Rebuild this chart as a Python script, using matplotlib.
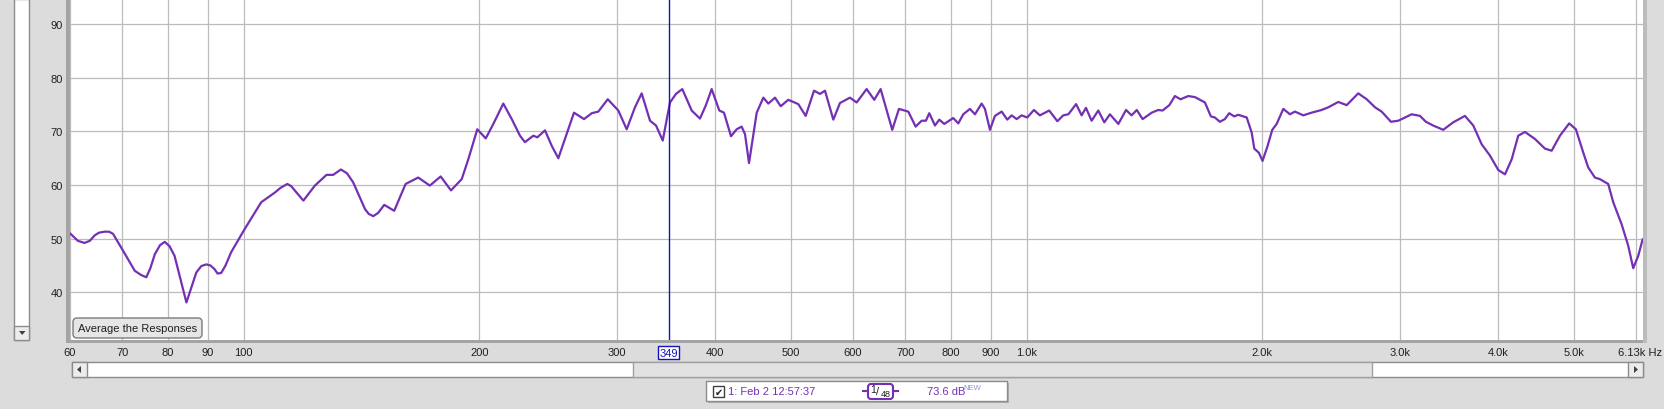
import matplotlib
matplotlib.use('Agg')
import matplotlib.pyplot as plt
from matplotlib.patches import Rectangle, FancyBboxPatch, Polygon
from matplotlib.transforms import IdentityTransform, blended_transform_factory

W, H = 1664, 410

freq_hz = [60, 61.4, 62.6, 63.6, 64.5, 65.3, 66.4, 67.3, 68.1, 70.1, 72.6, 74.0, 75.1, 76.0,
           77.0, 78.2, 79.3, 80.4, 81.6, 84.5, 87.0, 88.3, 89.6, 90.7,
           91.8, 92.6, 93.6, 94.8, 96.4, 100.3, 105.3, 109.6, 111.5, 113.7, 115.0, 116.2,
           119.2, 123.3, 127.6, 130.1, 131.6,
           133.1, 135.5, 138.0, 142.9, 144.5, 146.4, 148.5, 151.2, 155.7, 161.0, 167.1, 172.9,
           178.5, 184.0, 189.9,
           193.6, 198.8, 203.8, 208.4, 214.6, 220.0, 225.4, 228.7, 234.4, 237.2, 242.6, 247.5,
           252.3, 257.3, 264.2, 272.1, 278.4, 283.8, 291.8, 301.0, 308.5, 316.1, 322.4, 330.4,
           336.3, 343.0, 350.4, 356.6, 363.3, 373.5, 382.7, 389.2, 396.1, 405.1, 410.7, 419.3,
           426.3, 432.6, 436.9, 442.1, 452.2, 461.1, 467.9, 477.2, 485.3, 496.2, 511.0, 522.3,
           535.2, 544.7, 552.8, 566.5, 577.7, 594.9, 606.7, 624.8, 639.0, 651.1, 673.7, 687.1,
           706.2, 721.7, 734.6, 743.9, 751.2, 763.9, 773.6, 785.1, 806.1, 818.1, 830.2, 846.7,
           859.3, 876.3, 884.9, 898.0, 911.3, 929.5, 944.9, 957.2, 971.4, 985.7, 1002, 1022,
           1040, 1069, 1095, 1114, 1131, 1157, 1176, 1191, 1211, 1235, 1257, 1278, 1310, 1340,
           1362, 1383, 1407, 1445, 1473, 1492, 1522, 1547, 1573, 1609, 1641, 1690, 1720, 1740,
           1766, 1792, 1815, 1842, 1864, 1911, 1939, 1954, 1981, 2002, 2032, 2060, 2087, 2128,
           2170, 2202, 2257, 2313, 2382, 2429, 2502, 2564, 2653, 2720, 2787, 2842, 2921, 2985,
           3104, 3181, 3237, 3307, 3406, 3508, 3631, 3721, 3814, 3908, 4005, 4085, 4166, 4247,
           4332, 4461, 4594, 4686, 4801, 4934, 5032, 5141, 5217, 5321, 5400, 5534, 5616, 5756,
           5869, 5956, 6045, 6124]
spl_db = [51.0, 49.6, 49.2, 49.6, 50.6, 51.1, 51.3, 51.3, 50.9, 47.8, 44.0, 43.2, 42.8, 44.5,
          47.1, 48.8, 49.4, 48.6, 46.8, 38.1, 43.7, 44.9, 45.2, 45.0,
          44.3, 43.5, 43.6, 45.0, 47.5, 51.8, 56.8, 58.6, 59.5, 60.2, 59.8, 59.0,
          57.1, 59.9, 61.9, 61.9, 62.4,
          62.9, 62.2, 60.5, 55.5, 54.6, 54.2, 54.8, 56.3, 55.2, 60.2, 61.4, 59.9,
          61.6, 59.0, 61.1,
          64.8, 70.4, 68.7, 71.4, 75.2, 72.3, 69.2, 68.0, 69.2, 68.9, 70.2, 67.3,
          65.0, 68.6, 73.5, 72.3, 73.4, 73.7, 76.0, 73.9, 70.4, 74.5, 77.1, 72.0,
          71.1, 68.3, 75.4, 77.0, 77.9, 73.9, 72.4, 74.8, 77.9, 73.9, 73.5, 69.1,
          70.4, 70.9, 69.5, 64.1, 73.5, 76.3, 75.2, 76.3, 74.7, 75.9, 75.1, 72.9,
          77.6, 77.0, 77.6, 72.2, 75.3, 76.3, 75.4, 77.9, 75.9, 77.9, 70.3, 74.2,
          73.7, 70.9, 72.0, 72.0, 73.4, 71.1, 72.2, 71.4, 72.5, 71.5, 73.2, 74.2,
          73.2, 75.2, 74.2, 70.3, 72.9, 73.7, 72.2, 73.0, 72.3, 73.0, 72.6, 74.0,
          73.0, 73.9, 71.9, 73.0, 73.2, 75.1, 73.0, 74.4, 72.0, 73.9, 71.7, 73.2, 71.4, 74.0,
          73.0, 74.0, 72.3, 73.5, 74.0, 73.9, 74.9, 76.6, 76.0, 76.6, 76.4, 75.4, 72.8, 72.6,
          71.8, 72.3, 73.4, 72.8, 73.1, 72.6, 69.8, 66.8, 66.0, 64.5, 67.3, 70.3, 71.4, 74.2,
          73.2, 73.7, 73.0, 73.5, 74.0, 74.5, 75.5, 74.9, 77.1, 76.0, 74.5, 73.7, 71.8, 72.0,
          73.2, 72.9, 71.8, 71.1, 70.3, 71.7, 72.9, 71.1, 67.6, 65.5, 62.8, 62.0, 64.8, 69.2,
          69.9, 68.6, 66.8, 66.4, 69.2, 71.5, 70.4, 66.1, 63.3, 61.4, 61.1, 60.2, 56.8, 52.7,
          48.7, 44.5, 46.8, 49.9]

x_ticks = [60, 70, 80, 90, 100, 200, 300, 400, 500, 600, 700, 800, 900,
           1000, 2000, 3000, 4000, 5000, 6000]
x_labels = ['60', '70', '80', '90', '100', '200', '300', '400', '500', '600', '700', '800',
            '900', '1.0k', '2.0k', '3.0k', '4.0k', '5.0k', '']
y_ticks = [40, 50, 60, 70, 80, 90]
cursor_hz = 349
f_min, f_max = 60, 6130
db_min, db_max = 31.1, 94.7

plt.rcParams['font.family'] = ['Liberation Sans', 'DejaVu Sans']
plt.rcParams['font.size'] = 8

PURPLE = '#7430b4'
CURSOR = '#1414b8'
IDT = IdentityTransform()

fig = plt.figure(figsize=(W / 100, H / 100), dpi=100, facecolor='#dcdcdc')


def rect(x0, y0, x1, y1, **kw):
    # pixel box, origin at top-left of the image
    p = Rectangle((x0, H - y1), x1 - x0, y1 - y0, transform=IDT, **kw)
    fig.add_artist(p)
    return p


def tri(pts, color='#404040'):
    fig.add_artist(Polygon([(x, H - y) for x, y in pts], closed=True,
                           transform=IDT, color=color, lw=0))


def label(x, y, s, **kw):
    fig.text(x, H - y, s, transform=IDT, **kw)


# main plot area
ax = fig.add_axes([70 / W, 1 - 341 / H, 1573 / W, 341 / H])
ax.set_facecolor('white')
ax.plot(freq_hz, spl_db, color=PURPLE, lw=1.6, zorder=3,
        solid_joinstyle='round', solid_capstyle='round')
ax.axvline(cursor_hz, color=CURSOR, lw=1, zorder=4)
ax.set_xscale('log')
ax.set_xlim(f_min, f_max)
ax.set_ylim(db_min, db_max)
ax.set_xticks(x_ticks)
ax.set_xticklabels(x_labels)
ax.xaxis.set_minor_locator(matplotlib.ticker.NullLocator())
ax.set_yticks(y_ticks)
ax.grid(True, color='#bcbcbc', lw=0.9, zorder=1)
ax.tick_params(length=0, pad=5, labelsize=8, colors='#202020')
for s in ax.spines.values():
    s.set_visible(False)

# cursor frequency readout on the axis
ax.text(cursor_hz, -0.037, str(cursor_hz), color=CURSOR, ha='center', va='center',
        transform=blended_transform_factory(ax.transData, ax.transAxes),
        bbox=dict(boxstyle='square,pad=0.12', fc='white', ec=CURSOR, lw=1))
label(1618, 353, '6.13k Hz', va='center', ha='left', color='#202020')

# frame shading
rect(66, 0, 70, 344, color='#a4a4a4', lw=0)
rect(66, 341, 1646, 344, color='#a4a4a4', lw=0)
rect(1643, 0, 1647, 344, color='#bcbcbc', lw=0)

# left vertical scrollbar
rect(14, 0, 29, 341, fc='white', ec='#8c8c8c', lw=1)
rect(14, 327, 29, 341, fc='#ececec', ec='#8c8c8c', lw=1)
tri([(19, 332), (25.5, 332), (22.2, 336)])

# bottom horizontal scrollbar
rect(72, 363, 1643, 378, fc='white', ec='#8c8c8c', lw=1)
rect(633, 363, 1372, 378, fc='#e2e2e2', ec='#a0a0a0', lw=1)
rect(72, 363, 87, 378, fc='#ececec', ec='#8c8c8c', lw=1)
rect(1628, 363, 1643, 378, fc='#ececec', ec='#8c8c8c', lw=1)
tri([(77, 370.5), (81, 367), (81, 374)])
tri([(1638, 370.5), (1634, 367), (1634, 374)])

# "Average the Responses" button
fig.add_artist(FancyBboxPatch((73, H - 339), 129, 20, transform=IDT,
                              boxstyle='round,pad=0,rounding_size=4',
                              fc='#e6e6e6', ec='#7c7c7c', lw=1, zorder=5))
label(137.5, 329, 'Average the Responses', ha='center', va='center',
      color='#202020', zorder=6)

# measurement legend panel
rect(708, 384, 1009, 404, fc='#b0b0b0', lw=0)
rect(706, 382, 1007, 402, fc='white', ec='#8c8c8c', lw=1)
rect(713, 387, 724, 398, fc='white', ec='#404040', lw=1)
label(718.5, 392.5, '\u2714', ha='center', va='center', fontsize=7,
      family='DejaVu Sans', color='#202020')
label(728, 392.5, '1: Feb 2 12:57:37', ha='left', va='center', color=PURPLE)
fig.add_artist(plt.Line2D([863, 898], [H - 392, H - 392], transform=IDT,
                          color=PURPLE, lw=1.5))
fig.add_artist(FancyBboxPatch((868, H - 400), 25, 15, transform=IDT,
                              boxstyle='round,pad=0,rounding_size=3',
                              fc='white', ec=PURPLE, lw=1.5, zorder=5))
label(873, 390, '1', ha='center', va='center', fontsize=7.5, color='#202020', zorder=6)
label(877.5, 392, '/', ha='center', va='center', fontsize=8, color='#202020', zorder=6)
label(885.5, 395, '48', ha='center', va='center', fontsize=6.5, color='#202020', zorder=6)
label(927, 392.5, '73.6 dB', ha='left', va='center', color=PURPLE)
label(963, 389, 'NEW', ha='left', va='center', fontsize=5.5, color='#9090e0')

fig.savefig('out.png', dpi=100, facecolor=fig.get_facecolor())
